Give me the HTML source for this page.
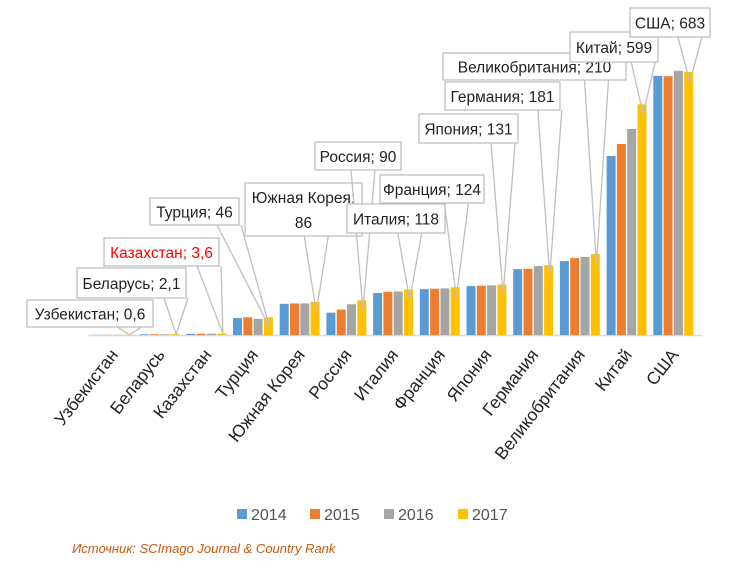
<!DOCTYPE html>
<html><head><meta charset="utf-8"><style>
html,body{margin:0;padding:0;background:#fff;width:751px;height:574px;overflow:hidden}
svg{display:block;font-family:"Liberation Sans","DejaVu Sans",sans-serif}
</style></head><body>
<svg id="chart" width="751" height="574" viewBox="0 0 751 574" xmlns="http://www.w3.org/2000/svg"></svg>
<script>
const categories=["Узбекистан","Беларусь","Казахстан","Турция","Южная Корея","Россия","Италия","Франция","Япония","Германия","Великобритания","Китай","США"];
const years=["2014","2015","2016","2017"];
const v2014=[0.5,1.8,3.0,44,81,58,109,119,127,171,192,465,673];
const v2015=[0.5,1.9,3.2,46,82,66,112,120,128,172,200,496,672];
const v2016=[0.6,2.0,3.4,42,82,80,113,121,129,179,203,535,686];
const v2017=[0.6,2.1,3.6,46,86,90,118,124,131,181,210,599,683];
const labelText=["Узбекистан; 0,6","Беларусь; 2,1","Казахстан; 3,6","Турция; 46","Южная Корея:|86","Россия; 90","Италия; 118","Франция; 124","Япония; 131","Германия; 181","Великобритания; 210","Китай; 599","США; 683"];
const colors=["#5B9BD5","#ED7D31","#A5A5A5","#FFC000"];
const series=[v2014,v2015,v2016,v2017];
const boxes=[[27,300,126,27],[77,268,109,30],[104,238,115,28],[150,198,89,27],[245,183,117,53],[315,142,86,28],[347,204,98,29],[380,175,104,28],[419,114,99,29],[445,82,115,28],[443,53,183,27],[570,32,88,30],[630,8,80,29]];
const svg=document.getElementById('chart');
const NS="http://www.w3.org/2000/svg";
const base=335, x0=253, step=46.7, scale=263/683;
const xc=i=>x0+(i-3)*step;
const yv=v=>base-v*scale;
function mk(t,a,p){const e=document.createElementNS(NS,t);for(const k in a)e.setAttribute(k,a[k]);(p||svg).appendChild(e);return e;}
const ax=mk('line',{x1:88,y1:base+0.5,x2:702,y2:base+0.5,stroke:'#d9d9d9','stroke-width':1.5});


const barW=9,bStep=10.3;
categories.forEach((c,i)=>{
  series.forEach((s,k)=>{
    const x=xc(i)-2*bStep+k*bStep+0.6;
    const r=mk('rect',{x:x,y:yv(s[i]),width:barW,height:s[i]*scale,fill:colors[k]});
    
    
  });
  const t=mk('text',{x:0,y:0,'font-size':17.5,fill:'#222','text-anchor':'end',transform:`translate(${xc(i)+6},${base+20}) rotate(-52)`});
  t.textContent=c;
  
  
});
categories.forEach((c,i)=>{
  const [bx,by,bw,bh]=boxes[i];
  const tx=xc(i)+2*bStep-4, ty=yv(v2017[i])+(i<3?0:10);
  const g=mk('g',{});
  
  
  const cx=Math.min(Math.max(tx,bx+10),bx+bw-10);
  mk('polyline',{points:`${cx-12},${by+bh} ${tx},${ty} ${cx+12},${by+bh}`,fill:'none',stroke:'#bfbfbf','stroke-width':1.3},g);
  mk('rect',{x:bx,y:by,width:bw,height:bh,fill:'#fff',stroke:'#bfbfbf','stroke-width':1.3},g);
  const parts=labelText[i].split('|');
  parts.forEach((p,j)=>{
    const t=mk('text',{x:bx+bw/2,y:by+(parts.length>1?20+j*25:bh/2+6),'font-size':15.5,'text-anchor':'middle',fill:i==2?'#ff0000':'#222'},g);
    t.textContent=p;
  });
});
const lx=[237,310,384,458];
years.forEach((y,k)=>{
  const g=mk('g',{});
  
  
  mk('rect',{x:lx[k],y:509,width:10,height:10,fill:colors[k]},g);
  const t=mk('text',{x:lx[k]+14,y:520,'font-size':16,fill:'#555'},g);
  t.textContent=y;
});
const src=mk('text',{x:72,y:553,'font-size':13,'font-style':'italic',fill:'#C55A11'});
src.textContent="Источник: SCImago Journal & Country Rank";


</script>
</body></html>
